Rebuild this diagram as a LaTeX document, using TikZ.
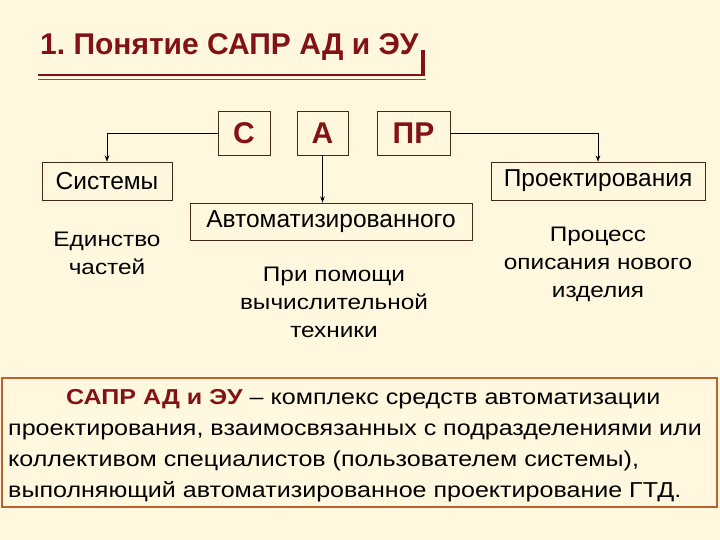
\documentclass[tikz,border=0pt]{standalone}
\usepackage{fontspec}
\setmainfont{Liberation Sans}
\newfontfamily\widefont[FakeStretch=1.16]{Liberation Sans}
\usepackage{tikz}
\usetikzlibrary{arrows.meta,positioning}
\definecolor{Xcream}{RGB}{255,248,222}
\definecolor{Xmaroon}{RGB}{130,18,22}
\definecolor{Xframe}{RGB}{70,40,25}
\definecolor{Xorange}{RGB}{190,95,45}
\tikzset{
  flow/.style={-{Stealth[length=2.2mm,width=1.6mm]}, semithick, draw=black},
  letterbox/.style={draw=Xframe, semithick, fill=Xcream, minimum height=44pt, inner sep=0pt,
    font=\fontsize{30}{34}\selectfont\bfseries, text=Xmaroon},
  wordbox/.style={draw=Xframe, semithick, fill=Xcream, minimum height=38pt, inner sep=0pt,
    font=\fontsize{24.5}{28}\selectfont},
  note/.style={align=center, inner sep=0pt, font=\widefont\fontsize{21}{28}\selectfont}
}
\begin{document}
\begin{tikzpicture}[x=1pt, y=-1pt]
  \fill[Xcream] (0,0) rectangle (720,540);
  \useasboundingbox (0,0) rectangle (720,540);

  % title
  \node[anchor=base west, inner sep=0pt, text=Xmaroon,
    font=\fontsize{30}{34}\selectfont\bfseries] (title) at (40,55) {1.\ Понятие САПР АД и ЭУ};
  \draw[Xmaroon, line width=2pt] (38,75.5) -- (424,75.5);
  \draw[Xmaroon!80, line width=0.9pt] (38,79.5) -- (426,79.5);
  \fill[Xmaroon] (420.5,50) rectangle (425,76.5);

  % letters
  \node[letterbox, minimum width=52pt] (c) at (244,133) {С};
  \node[letterbox, minimum width=51pt] (a) at (322.5,133) {А};
  \node[letterbox, minimum width=73pt] (pr) at (413.5,133) {ПР};

  % words
  \node[wordbox, minimum width=130pt] (sys) at (107,181) {Системы};
  \node[wordbox, minimum width=282pt, minimum height=37pt] (avt) at (331,221.5) {Автоматизированного};
  \node[wordbox, minimum width=214pt] (proj) at (598,181) {Проектирования};

  \draw[flow] (c.west) -| (sys.north);
  \draw[flow] (a.south) -- (a.south |- avt.north);
  \draw[flow] (pr.east) -| (proj.north);

  % explanations
  \node[note, anchor=north] (sysnote) at (107,232) {Единство\\частей};
  \node[note, anchor=north] (avtnote) at (334,267) {При помощи\\вычислительной\\техники};
  \node[note, anchor=north] (projnote) at (598,227) {Процесс\\описания нового\\изделия};

  % definition
  \draw[Xorange, line width=1.6pt, fill=Xcream] (2,378) rectangle (717,507);
  \node[anchor=north west, align=left, inner sep=0pt,
    font=\widefont\fontsize{21.6}{31}\selectfont] (defn) at (8,389)
    {\hspace*{58pt}{\bfseries\color{Xmaroon}САПР АД и ЭУ} – комплекс средств автоматизации\\
     проектирования, взаимосвязанных с подразделениями или\\
     коллективом специалистов (пользователем системы),\\
     выполняющий автоматизированное проектирование ГТД.};
\end{tikzpicture}
\end{document}
